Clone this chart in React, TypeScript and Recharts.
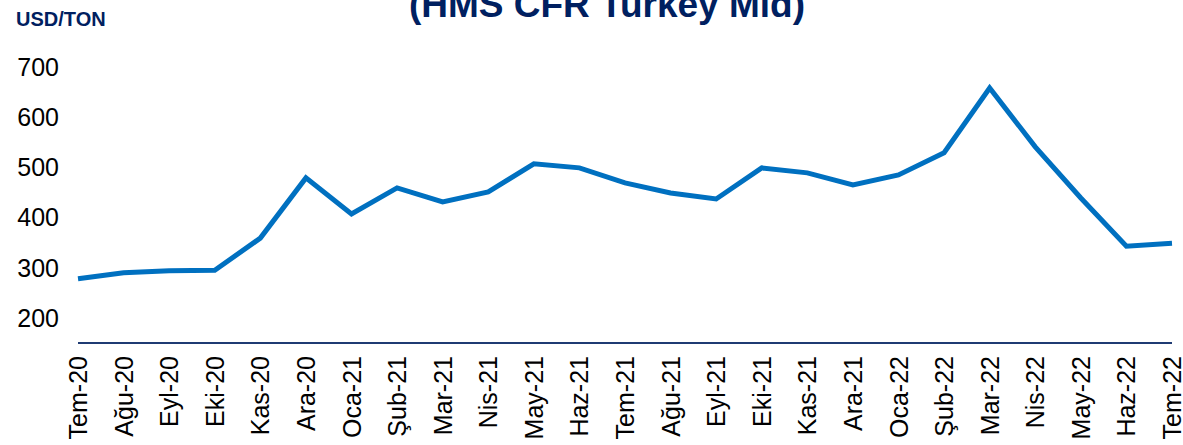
import { LineChart, Line, XAxis, YAxis } from "recharts";

const months = [
  "Tem-20", "Ağu-20", "Eyl-20", "Eki-20", "Kas-20", "Ara-20",
  "Oca-21", "Şub-21", "Mar-21", "Nis-21", "May-21", "Haz-21",
  "Tem-21", "Ağu-21", "Eyl-21", "Eki-21", "Kas-21", "Ara-21",
  "Oca-22", "Şub-22", "Mar-22", "Nis-22", "May-22", "Haz-22", "Tem-22",
];

const prices = [
  278, 290, 294, 295, 359, 479,
  407, 459, 431, 451, 507, 499,
  469, 449, 437, 499, 489, 465,
  485, 529, 658, 541, 439, 343, 349,
];

const yTicks = [200, 300, 400, 500, 600, 700];

const data = months.map((m, i) => ({ month: m, price: prices[i] }));

const FONT = "'Liberation Sans', Arial, sans-serif";
const NAVY = "#002060";

function MonthTick(props: any) {
  const { x, y, payload } = props;
  return (
    <text
      transform={`translate(${x + 9},${y + 5}) rotate(-90)`}
      textAnchor="end"
      fontSize={25}
      fontFamily={FONT}
      fill="#000"
    >
      {payload.value}
    </text>
  );
}

export default function App() {
  return (
    <div
      style={{
        position: "absolute",
        left: 0,
        top: 0,
        width: 1183,
        height: 445,
        overflow: "hidden",
        background: "#fff",
        fontFamily: FONT,
      }}
    >
      <div
        style={{
          position: "absolute",
          left: 0,
          width: 1214,
          top: -14,
          textAlign: "center",
          fontSize: 37,
          lineHeight: "37px",
          fontWeight: "bold",
          color: NAVY,
          whiteSpace: "nowrap",
        }}
      >
        (HMS CFR Turkey Mid)
      </div>
      <div
        style={{
          position: "absolute",
          left: 16,
          top: 9,
          fontSize: 20,
          lineHeight: "20px",
          fontWeight: "bold",
          color: NAVY,
        }}
      >
        USD/TON
      </div>
      <LineChart
        width={1183}
        height={445}
        data={data}
        margin={{ top: 67, right: 11, bottom: 0, left: 18 }}
      >
        <XAxis
          dataKey="month"
          interval={0}
          height={102}
          tickLine={false}
          axisLine={{ stroke: "#1F3B73", strokeWidth: 2 }}
          tick={<MonthTick />}
        />
        <YAxis
          domain={[150, 700]}
          ticks={yTicks}
          width={60}
          axisLine={false}
          tickLine={false}
          tickSize={6}
          tickMargin={13}
          tick={{ fontSize: 25, fill: "#000", fontFamily: FONT }}
        />
        <Line
          type="linear"
          dataKey="price"
          stroke="#0070C0"
          strokeWidth={5}
          dot={false}
          isAnimationActive={false}
        />
      </LineChart>
    </div>
  );
}
